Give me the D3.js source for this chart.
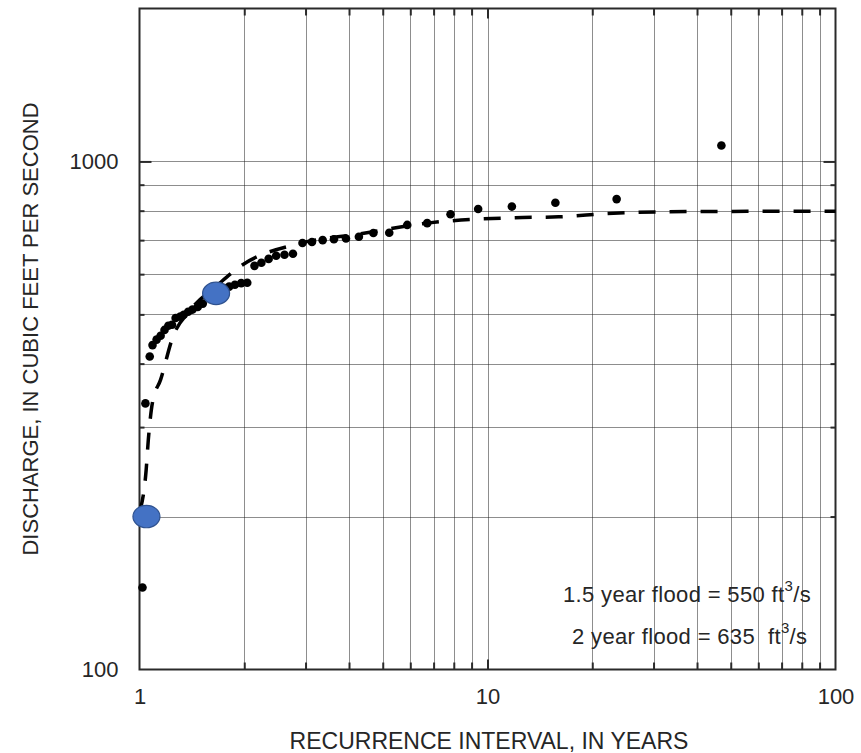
<!DOCTYPE html>
<html>
<head>
<meta charset="utf-8">
<script src="https://cdn.jsdelivr.net/npm/d3@7"></script>
<style>
  body { margin: 0; background: #fff; }
  svg text { font-family: "Liberation Sans", Arial, sans-serif; fill: #262626; }
</style>
</head>
<body>
<svg id="chart" width="861" height="753"></svg>
<script>
// Annual peak discharges ranked against their recurrence interval (years)
const recurrenceYears = [47, 23.5, 15.67, 11.75, 9.4, 7.83, 6.71, 5.88, 5.22, 4.7,
  4.27, 3.92, 3.62, 3.36, 3.13, 2.94, 2.76, 2.61, 2.47, 2.35,
  2.24, 2.14, 2.04, 1.96, 1.88, 1.81, 1.74, 1.68, 1.62, 1.57,
  1.52, 1.47, 1.42, 1.38, 1.34, 1.31, 1.27, 1.24, 1.21, 1.18,
  1.15, 1.12, 1.09, 1.07, 1.04, 1.02];
const peakDischarge = [1075, 843, 829, 815, 806, 787, 756, 750, 724, 723,
  711, 705, 703, 700, 694, 691, 658, 655, 652, 643,
  632, 623, 577, 576, 572, 567, 564, 559, 551, 539,
  525, 517, 511, 506, 499, 495, 492, 477, 475, 466,
  454, 446, 435, 413, 334, 145];

// Fitted frequency curve (dashed)
const fitYears = [1.003, 1.045, 1.06, 1.09, 1.15, 1.245, 1.4, 1.68, 1.95, 2.9, 4.3, 6.8, 12, 16, 23, 40, 100];
const fitDischarge = [205, 247, 283, 336, 372, 450, 510, 572, 622, 690, 720, 757, 775, 778, 791, 797, 798];

// Highlighted points
const markYears = [1.047, 1.66];
const markDischarge = [200, 550];

// Axes
const xMajorTicks = [1, 10, 100];
const xTickLabels = ["1", "10", "100"];
const xMinorTicks = [2, 3, 4, 5, 6, 7, 8, 9, 20, 30, 40, 50, 60, 70, 80, 90];
const yMajorTicks = [100, 1000];
const yTickLabels = ["100", "1000"];
const yMinorTicks = [200, 300, 400, 500, 600, 700, 800, 900];

const notes = [
  { text: "1.5 year flood = 550 ft", tail: "/s" },
  { text: "2 year flood = 635  ft", tail: "/s" }
];

const svg = d3.select("#chart");
const plotL = 139.5, plotR = 835.5, plotT = 8.5, plotB = 669.5;

const x = d3.scaleLog().domain([1, 100]).range([plotL, plotR]);
const y = d3.scaleLog().domain([100, 2000]).range([plotB, plotT]);
const px = v => Math.round(x(v)) + 0.5;
const py = v => Math.round(y(v)) + 0.5;

// Dotted grid
const grid = svg.append("g").attr("stroke", "#1a1a1a").attr("stroke-width", 1)
  .attr("stroke-dasharray", "1,1");
grid.selectAll("line.v").data(xMinorTicks.concat([10])).join("line")
  .attr("x1", px).attr("x2", px).attr("y1", plotT).attr("y2", plotB);
grid.selectAll("line.h").data(yMinorTicks.concat([1000])).join("line")
  .attr("y1", py).attr("y2", py).attr("x1", plotL).attr("x2", plotR);

// Inward ticks on all four sides
function ticks(axisFn, scale, values, size, transform) {
  const g = svg.append("g").attr("transform", transform)
    .call(axisFn(scale).tickValues(values).tickSize(size).tickFormat(""));
  g.select(".domain").remove();
  g.selectAll(".tick line").attr("stroke", "#2a2a2a").attr("stroke-width", 2);
}
ticks(d3.axisBottom, x, xMinorTicks, -7, `translate(0,${plotB})`);
ticks(d3.axisBottom, x, [10], -10, `translate(0,${plotB})`);
ticks(d3.axisTop, x, xMinorTicks, -7, `translate(0,${plotT})`);
ticks(d3.axisTop, x, [10], -10, `translate(0,${plotT})`);
ticks(d3.axisLeft, y, yMinorTicks, -5, `translate(${plotL},0)`);
ticks(d3.axisLeft, y, [1000], -12, `translate(${plotL},0)`);
ticks(d3.axisRight, y, yMinorTicks, -5, `translate(${plotR},0)`);
ticks(d3.axisRight, y, [1000], -12, `translate(${plotR},0)`);

// Tick labels
const xl = svg.append("g").attr("transform", `translate(0,${plotB})`)
  .call(d3.axisBottom(x).tickValues(xMajorTicks).tickSize(0).tickPadding(19)
    .tickFormat((d, i) => xTickLabels[i]));
xl.select(".domain").remove();
xl.selectAll("text").attr("font-size", 22).attr("font-family", null);

const yl = svg.append("g").attr("transform", `translate(${plotL},0)`)
  .call(d3.axisLeft(y).tickValues(yMajorTicks).tickSize(0).tickPadding(21)
    .tickFormat((d, i) => yTickLabels[i]));
yl.select(".domain").remove();
yl.selectAll("text").attr("font-size", 22).attr("font-family", null);

// Frame
svg.append("rect").attr("x", plotL).attr("y", plotT)
  .attr("width", plotR - plotL).attr("height", plotB - plotT)
  .attr("fill", "none").attr("stroke", "#2a2a2a").attr("stroke-width", 2);

// Fitted curve
const fit = fitYears.map((t, i) => [t, fitDischarge[i]]);
svg.append("path").datum(fit)
  .attr("d", d3.line().x(d => x(d[0])).y(d => y(d[1])).curve(d3.curveMonotoneX))
  .attr("fill", "none").attr("stroke", "#000").attr("stroke-width", 3.5)
  .attr("stroke-dasharray", "17,14");

// Observed peaks
svg.append("g").selectAll("circle")
  .data(recurrenceYears.map((t, i) => [t, peakDischarge[i]]))
  .join("circle")
  .attr("cx", d => x(d[0])).attr("cy", d => y(d[1])).attr("r", 4.3)
  .attr("fill", "#000");

// Highlighted points
svg.append("g").selectAll("ellipse")
  .data(markYears.map((t, i) => [t, markDischarge[i]]))
  .join("ellipse")
  .attr("cx", d => x(d[0])).attr("cy", d => y(d[1]))
  .attr("rx", 13.5).attr("ry", 11.2)
  .attr("fill", "#4472c4").attr("stroke", "#2f528f").attr("stroke-width", 1.2);

// Notes
const noteX = [563, 572], noteY = [602, 644];
notes.forEach((n, i) => {
  const t = svg.append("text").attr("x", noteX[i]).attr("y", noteY[i])
    .attr("font-size", 22).attr("letter-spacing", 0.35).style("white-space", "pre");
  t.append("tspan").text(n.text);
  t.append("tspan").text("3").attr("font-size", 15).attr("dx", 0).attr("dy", -11);
  t.append("tspan").text(n.tail).attr("dy", 11);
});

// Axis titles
svg.append("text").attr("x", 489).attr("y", 749).attr("text-anchor", "middle")
  .attr("font-size", 23).text("RECURRENCE INTERVAL, IN YEARS");
svg.append("text").attr("transform", "translate(38,329) rotate(-90)")
  .attr("text-anchor", "middle").attr("font-size", 22)
  .text("DISCHARGE, IN CUBIC FEET PER SECOND");
</script>
</body>
</html>
